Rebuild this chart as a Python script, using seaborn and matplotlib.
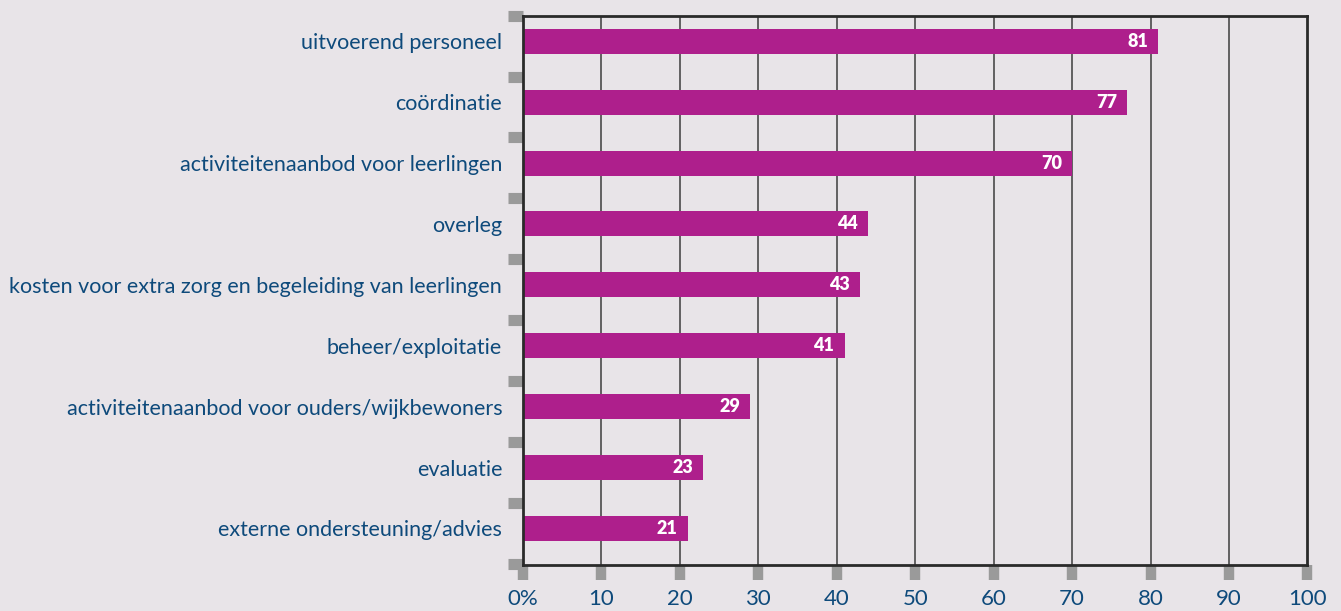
import numpy as np
import pandas as pd
from matplotlib import pyplot as plt
import seaborn as sns

sns.set_style('ticks')
plt.rcParams['font.family'] = ['Lato', 'DejaVu Sans']

categories = [
    'uitvoerend personeel',
    'coördinatie',
    'activiteitenaanbod voor leerlingen',
    'overleg',
    'kosten voor extra zorg en begeleiding van leerlingen',
    'beheer/exploitatie',
    'activiteitenaanbod voor ouders/wijkbewoners',
    'evaluatie',
    'externe ondersteuning/advies',
]
values = [81, 77, 70, 44, 43, 41, 29, 23, 21]
x_ticks = [0, 10, 20, 30, 40, 50, 60, 70, 80, 90, 100]
x_tick_labels = ['0%', '10', '20', '30', '40', '50', '60', '70', '80', '90', '100']

bg = '#e8e4e8'
bar_color = '#ae1f8c'
text_color = '#0e4a7b'
marker_gray = '#9a9a9a'

df = pd.DataFrame({'categorie': categories, 'waarde': values})

fig = plt.figure(figsize=(13.41, 6.11), dpi=100, facecolor=bg)
ax = fig.add_axes([0.390, 0.0753, 0.585, 0.899])
ax.set_facecolor(bg)

sns.barplot(data=df, x='waarde', y='categorie', color=bar_color,
            saturation=1, width=0.41, linewidth=0, ax=ax, zorder=3)

ax.set_xlim(0, 100)
ax.set_ylim(8.6, -0.41)
ax.set_xlabel('')
ax.set_ylabel('')

# vertical grid lines
for x in x_ticks[1:-1]:
    ax.axvline(x, color='#4a4a4a', lw=1.2, zorder=1)

for side in ['left', 'right', 'top', 'bottom']:
    ax.spines[side].set_color('#2a2a2a')
    ax.spines[side].set_linewidth(2)
    ax.spines[side].set_zorder(4)

# value labels inside the bars
for i, v in enumerate(values):
    ax.text(v - 1.3, i, str(v), ha='right', va='center', color='white',
            fontsize=13, fontweight='heavy', zorder=5)

# category labels (no tick marks) + grey square markers between them
ax.set_yticks(range(len(categories)))
ax.set_yticklabels(categories, fontsize=15.5, color=text_color)
ax.tick_params(axis='y', which='major', length=0, pad=15)
ax.set_yticks([i - 0.42 for i in range(len(categories) + 1)], minor=True)
ax.tick_params(axis='y', which='minor', length=10.5, width=8,
               color=marker_gray, direction='out')

ax.set_xticks(x_ticks)
ax.set_xticklabels(x_tick_labels, fontsize=16, color=text_color)
ax.tick_params(axis='x', which='major', length=11, width=7.5,
               color=marker_gray, direction='out', pad=6)

plt.savefig('out.png', dpi=100, facecolor=bg)
